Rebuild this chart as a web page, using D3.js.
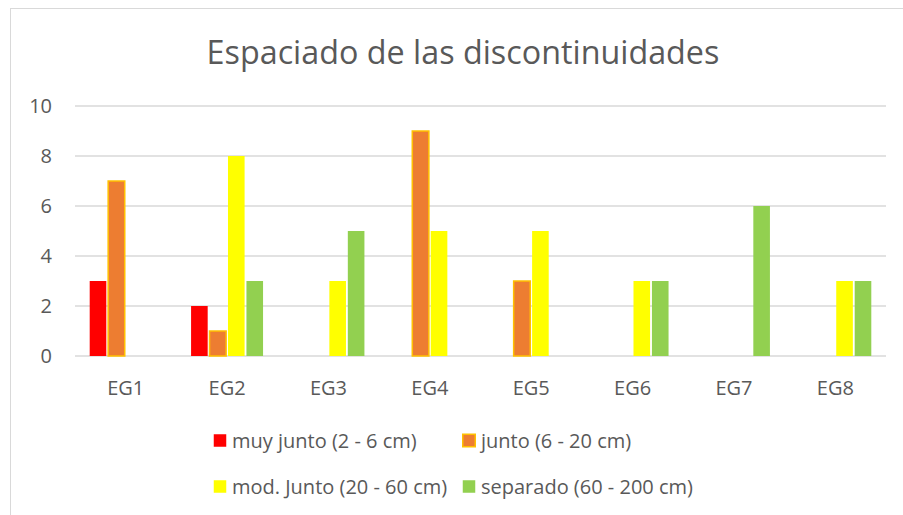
<!DOCTYPE html>
<html>
<head>
<meta charset="utf-8">
<script src="https://cdn.jsdelivr.net/npm/d3@7"></script>
<style>
  html, body { margin: 0; padding: 0; background: #fff; }
  svg { display: block; }
  text { font-family: "Open Sans", "Noto Sans", sans-serif; fill: #595959; }
</style>
</head>
<body>
<div id="chart"></div>
<script>
// datos
const categorias = ["EG1", "EG2", "EG3", "EG4", "EG5", "EG6", "EG7", "EG8"];
const series = ["muy junto (2 - 6 cm)", "junto (6 - 20 cm)", "mod. Junto (20 - 60 cm)", "separado (60 - 200 cm)"];
const muyJunto = [3, 2, 0, 0, 0, 0, 0, 0];
const junto = [7, 1, 0, 9, 3, 0, 0, 0];
const modJunto = [0, 8, 3, 5, 5, 3, 0, 3];
const separado = [0, 3, 5, 0, 0, 3, 6, 3];
const yTicks = [0, 2, 4, 6, 8, 10];
const titulo = "Espaciado de las discontinuidades";

const colores = ["#FF0000", "#ED7D31", "#FFFF00", "#92D050"];
const bordes = ["none", "#FFC000", "none", "none"];
const valores = [muyJunto, junto, modJunto, separado];

const W = 903, H = 515;
const margin = { top: 106, right: 17, bottom: 159, left: 75 };
const width = W - margin.left - margin.right;
const height = H - margin.top - margin.bottom;

const svg = d3.select("#chart").append("svg")
    .attr("width", W)
    .attr("height", H);

// marco
svg.append("rect")
    .attr("x", 10.5).attr("y", 8.5)
    .attr("width", 900).attr("height", 520)
    .attr("fill", "#fff")
    .attr("stroke", "#d9d9d9")
    .attr("stroke-width", 1);

svg.append("text")
    .attr("x", 463).attr("y", 64)
    .attr("text-anchor", "middle")
    .style("font-size", "32.3px")
    .text(titulo);

const g = svg.append("g").attr("transform", `translate(${margin.left},${margin.top})`);

const x0 = d3.scaleBand().domain(categorias).range([0, width]).paddingInner(0).paddingOuter(0);
const x1 = d3.scaleBand().domain(d3.range(series.length))
    .range([x0.bandwidth() * 0.145, x0.bandwidth() * 0.855]).paddingInner(0.1);
const y = d3.scaleLinear().domain([0, 10]).range([height, 0]);

// rejilla
g.append("g").selectAll("line")
    .data(yTicks)
    .join("line")
    .attr("x1", 0).attr("x2", width)
    .attr("y1", d => y(d)).attr("y2", d => y(d))
    .attr("stroke", "#d9d9d9")
    .attr("stroke-width", 1.5);

const yAxis = g.append("g")
    .call(d3.axisLeft(y).tickValues(yTicks).tickSize(0).tickPadding(23));
yAxis.select(".domain").remove();
yAxis.selectAll("text").style("font-size", "20px").attr("fill", "#595959");

const xAxis = g.append("g")
    .attr("transform", `translate(0,${height})`)
    .call(d3.axisBottom(x0).tickSize(0).tickPadding(25));
xAxis.select(".domain").remove();
xAxis.selectAll("text").style("font-size", "20px").attr("fill", "#595959");

// barras
const datos = [];
categorias.forEach((c, i) => {
    valores.forEach((v, s) => {
        if (v[i] > 0) datos.push({ cat: c, s: s, v: v[i] });
    });
});

g.append("g").selectAll("rect")
    .data(datos)
    .join("rect")
    .attr("x", d => x0(d.cat) + x1(d.s))
    .attr("width", x1.bandwidth())
    .attr("y", d => y(d.v))
    .attr("height", d => y(0) - y(d.v))
    .attr("fill", d => colores[d.s])
    .attr("stroke", d => bordes[d.s])
    .attr("stroke-width", 1.5);

// leyenda
const leyenda = svg.append("g");
const posLeyenda = [[213, 441], [462, 441], [213, 487], [462, 487]];
series.forEach((nombre, i) => {
    const it = leyenda.append("g").attr("transform", `translate(${posLeyenda[i][0]},${posLeyenda[i][1]})`);
    it.append("rect")
        .attr("x", 0.75).attr("y", -6.75)
        .attr("width", 12.5).attr("height", 12.5)
        .attr("fill", colores[i])
        .attr("stroke", bordes[i])
        .attr("stroke-width", 1.5);
    it.append("text")
        .attr("x", 19).attr("y", 7)
        .style("font-size", "20px")
        .text(nombre);
});
</script>
</body>
</html>
